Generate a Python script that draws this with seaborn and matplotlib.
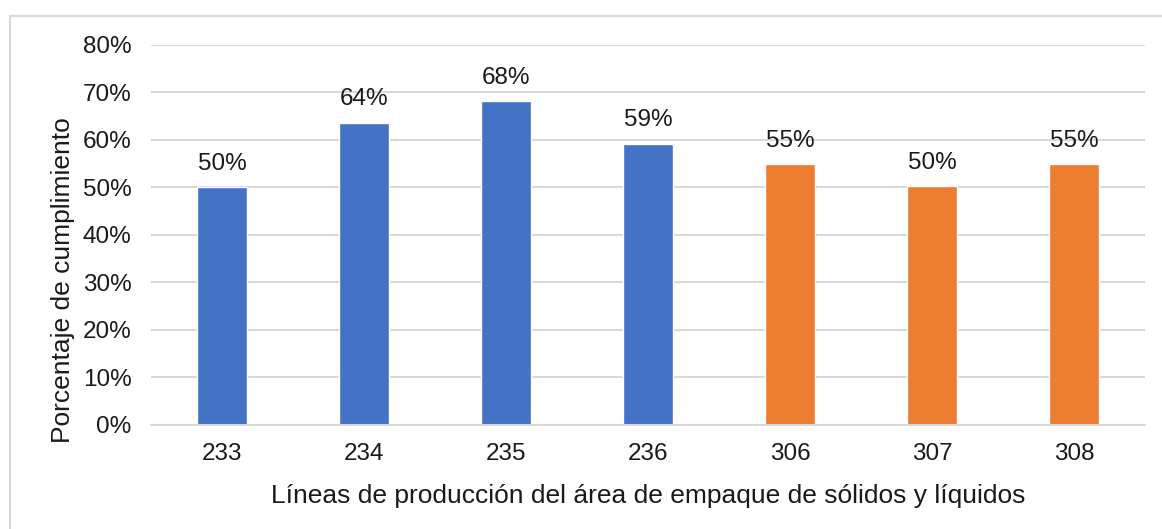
import matplotlib
matplotlib.use("Agg")
import matplotlib.pyplot as plt
from matplotlib.patches import Rectangle
from matplotlib.ticker import PercentFormatter, MultipleLocator
import seaborn as sns
import pandas as pd

# Production lines and their compliance share
lineas = ["233", "234", "235", "236", "306", "307", "308"]
cumplimiento = [0.50, 0.636, 0.682, 0.592, 0.549, 0.503, 0.549]
area = ["Sólidos", "Sólidos", "Sólidos", "Sólidos", "Líquidos", "Líquidos", "Líquidos"]

colores = {"Sólidos": "#4472C4", "Líquidos": "#ED7D31"}

df = pd.DataFrame({"linea": lineas, "cumplimiento": cumplimiento, "area": area})

sns.set_theme(style="white")
plt.rcParams["font.family"] = ["Liberation Sans", "DejaVu Sans"]

fig = plt.figure(figsize=(11.62, 5.29), dpi=100)
ax = fig.add_axes([0.130, 0.1966, 0.8554, 0.7184])

sns.barplot(data=df, x="linea", y="cumplimiento", hue="area", palette=colores,
            dodge=False, width=0.35, legend=False, ax=ax, saturation=1)

for cont in ax.containers:
    ax.bar_label(cont, labels=[f"{v * 100:.0f}%" for v in cont.datavalues],
                 padding=9, fontsize=17.5, color="#1a1a1a")

ax.set_ylim(0, 0.80)
ax.yaxis.set_major_locator(MultipleLocator(0.10))
ax.yaxis.set_major_formatter(PercentFormatter(1.0, decimals=0))
ax.set_xlim(-0.5, len(lineas) - 0.5)

ax.grid(axis="y", color="#D9D9D9", linewidth=1.5)
ax.set_axisbelow(True)
for side in ["top", "right", "left"]:
    ax.spines[side].set_visible(False)
ax.spines["bottom"].set_color("#D9D9D9")
ax.spines["bottom"].set_linewidth(1.5)
ax.tick_params(axis="both", length=0, labelsize=17.5, labelcolor="#1a1a1a")
ax.tick_params(axis="x", pad=13)
ax.tick_params(axis="y", pad=14)

ax.set_xlabel("Líneas de producción del área de empaque de sólidos y líquidos",
              fontsize=19, color="#1a1a1a", labelpad=14)
ax.set_ylabel("Porcentaje de cumplimiento", fontsize=19, color="#1a1a1a")
ax.yaxis.set_label_coords(-0.0765, 0.38)

# Light frame around the chart area
fig.patches.append(Rectangle((10 / 1162, -0.05), 1.2, (529 - 16) / 529 + 0.05,
                             transform=fig.transFigure, fill=False,
                             edgecolor="#D9D9D9", linewidth=1.5, zorder=0))

fig.savefig("out.png", dpi=100, facecolor="white")
